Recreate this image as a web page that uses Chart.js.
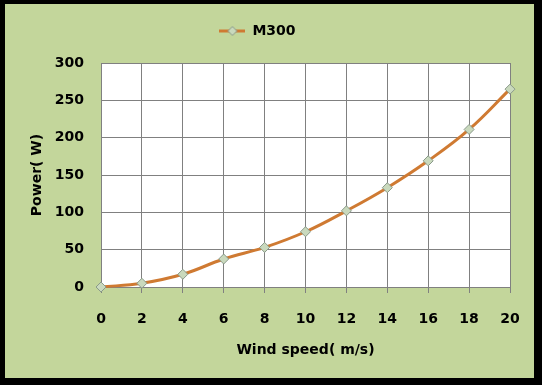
<!DOCTYPE html>
<html>
<head>
<meta charset="utf-8">
<script src="https://cdn.jsdelivr.net/npm/chart.js@4.4.0/dist/chart.umd.min.js"></script>
<style>
    html, body { margin: 0; padding: 0; background: #000; }
    #frame {
        position: absolute; left: 5px; top: 4px;
        width: 529px; height: 374px;
        background: #c3d69b;
    }
</style>
</head>
<body>
<div id="frame"><canvas id="powerChart" width="529" height="374"></canvas></div>
<script>
// wind speed (m/s) and power (W)
const windSpeed = [0, 2, 4, 6, 8, 10, 12, 14, 16, 18, 20];
const power = [0, 5, 17, 37.5, 53, 74, 102, 133, 169, 211, 265];
const seriesName = 'M300';

const lineColor = '#cf7a32';
const gridColor = '#808080';

// little line + diamond used as legend symbol
function legendSymbol() {
    const c = document.createElement('canvas');
    c.width = 26;
    c.height = 12;
    const g = c.getContext('2d');
    g.strokeStyle = lineColor;
    g.lineWidth = 3;
    g.beginPath();
    g.moveTo(0, 6);
    g.lineTo(26, 6);
    g.stroke();
    g.fillStyle = '#c9d9bd';
    g.strokeStyle = '#8a9a8a';
    g.lineWidth = 1;
    g.beginPath();
    g.moveTo(13, 1.5);
    g.lineTo(17.5, 6);
    g.lineTo(13, 10.5);
    g.lineTo(8.5, 6);
    g.closePath();
    g.fill();
    g.stroke();
    return c;
}

// white plot area on the green background
const plotBg = {
    id: 'plotBg',
    beforeDraw(chart) {
        const a = chart.chartArea;
        chart.ctx.save();
        chart.ctx.fillStyle = '#ffffff';
        chart.ctx.fillRect(a.left, a.top, a.right - a.left, a.bottom - a.top);
        chart.ctx.restore();
    }
};

// fixed legend height so the plot top lands where it should
const legendHeight = {
    id: 'legendHeight',
    beforeInit(chart) {
        const fit = chart.legend.fit;
        chart.legend.fit = function () {
            fit.bind(chart.legend)();
            this.height = 59;
        };
    }
};

Chart.defaults.font.family = 'DejaVu Sans';
Chart.defaults.font.weight = 'bold';
Chart.defaults.font.size = 14;
Chart.defaults.color = '#000';

const symbol = legendSymbol();

new Chart(document.getElementById('powerChart'), {
    type: 'line',
    data: {
        datasets: [{
            label: seriesName,
            data: windSpeed.map((x, i) => ({ x: x, y: power[i] })),
            borderColor: lineColor,
            borderWidth: 3,
            tension: 0.4,
            pointStyle: 'rectRot',
            pointRadius: 5,
            pointBackgroundColor: '#c9d9bd',
            pointBorderColor: '#8a9a8a',
            pointBorderWidth: 1,
            clip: false
        }]
    },
    options: {
        responsive: false,
        animation: false,
        layout: { padding: { left: 0, right: 24, top: 0, bottom: 0 } },
        plugins: {
            tooltip: { enabled: false },
            legend: {
                position: 'top',
                labels: {
                    usePointStyle: true,
                    pointStyleWidth: 26,
                    padding: 20,
                    font: { size: 14, weight: 'bold' },
                    generateLabels: (chart) => [{
                        text: seriesName,
                        pointStyle: symbol,
                        fillStyle: lineColor,
                        strokeStyle: lineColor,
                        lineWidth: 0,
                        datasetIndex: 0
                    }]
                }
            }
        },
        scales: {
            x: {
                type: 'linear',
                min: 0,
                max: 20,
                ticks: { stepSize: 2, padding: 18 },
                grid: { color: gridColor, tickLength: 6, tickColor: gridColor },
                border: { color: gridColor },
                title: {
                    display: true,
                    text: 'Wind speed( m/s)',
                    font: { size: 14, weight: 'bold' },
                    padding: { top: 0, bottom: 19 }
                },
                afterFit(s) {
                    s.height = 91;
                    s.paddingLeft = 0;
                    s.paddingRight = 0;
                }
            },
            y: {
                min: 0,
                max: 300,
                ticks: { stepSize: 50, padding: 17 },
                grid: { color: gridColor, drawTicks: false },
                border: { color: gridColor },
                title: {
                    display: true,
                    text: 'Power( W)',
                    font: { size: 14, weight: 'bold' },
                    padding: { top: 24, bottom: 0 }
                },
                afterFit(s) {
                    s.width = 96;
                    s.paddingTop = 0;
                    s.paddingBottom = 0;
                }
            }
        }
    },
    plugins: [plotBg, legendHeight]
});
</script>
</body>
</html>
